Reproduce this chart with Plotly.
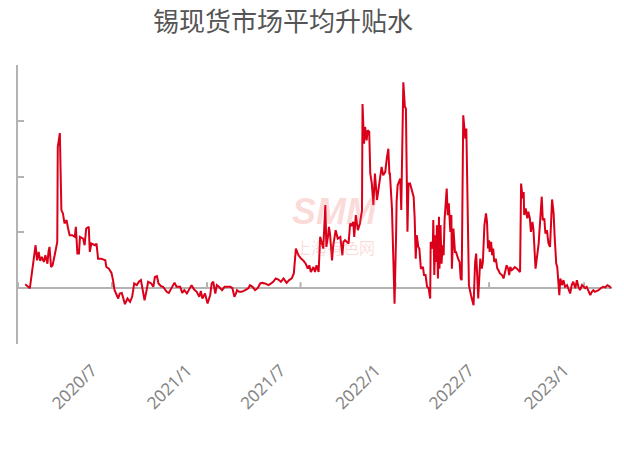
import pandas as pd
import plotly.graph_objects as go

title_text = "锡现货市场平均升贴水"

# days since 2020-01-01
day_offset = [
    14, 23, 34, 37, 40, 43, 46, 50, 53, 57, 59, 61, 64, 67, 71, 76, 77, 81, 84, 87,
    90, 94, 97, 100, 105, 110, 112, 115, 118, 120, 126, 129, 132, 137, 139, 142, 149, 152, 155, 161,
    169, 171, 176, 181, 184, 187, 194, 197, 201, 207, 212, 217, 221, 225, 230, 234, 238, 241, 245, 249,
    252, 258, 262, 265, 269, 272, 277, 281, 288, 292, 298, 303, 307, 314, 318, 322, 327, 331, 336, 341,
    346, 351, 354, 357, 362, 367, 372, 375, 378, 382, 385, 389, 395, 400, 404, 411, 415, 419, 422, 424,
    428, 433, 440, 446, 449, 454, 459, 464, 469, 473, 478, 485, 490, 494, 499, 504, 509, 514, 520, 525,
    530, 534, 538, 543, 548, 553, 557, 561, 564, 567, 572, 575, 578, 582, 585, 588, 591, 595, 597, 600,
    602, 604, 608, 610, 613, 615, 619, 624, 628, 630, 633, 640, 643, 646, 649, 651, 654, 658, 662, 666,
    667, 670, 672, 675, 677, 680, 682, 685, 688, 691, 695, 698, 701, 704, 707, 711, 714, 717, 719, 720,
    724, 727, 729, 732, 733, 735, 738, 740, 742, 744, 746, 749, 751, 754, 756, 759, 762, 766, 768, 770,
    772, 775, 777, 780, 784, 786, 789, 792, 795, 798, 799, 801, 803, 804, 806, 808, 810, 811, 813, 815,
    816, 818, 820, 822, 824, 826, 828, 830, 832, 834, 837, 839, 840, 843, 846, 848, 852, 855, 857, 859,
    862, 866, 868, 871, 873, 877, 880, 882, 885, 887, 889, 891, 893, 895, 898, 900, 903, 906, 908, 910,
    912, 913, 916, 918, 920, 922, 925, 928, 930, 933, 937, 940, 943, 946, 949, 951, 953, 956, 959, 962,
    966, 969, 972, 974, 977, 979, 980, 983, 986, 988, 991, 993, 996, 998, 1002, 1008, 1012, 1014, 1016, 1019,
    1021, 1024, 1027, 1030, 1034, 1037, 1039, 1042, 1044, 1046, 1048, 1050, 1053, 1056, 1059, 1063, 1066, 1069, 1072, 1075,
    1079, 1082, 1085, 1088, 1092, 1095, 1098, 1101, 1104, 1108, 1111, 1114, 1117, 1121, 1124, 1128, 1133, 1137, 1141, 1145,
    1148,
]

# average premium / discount, yuan/mt
premium = [
    70, 0, 770, 500, 650, 490, 560, 470, 590, 440, 650, 740, 380, 410, 590, 830, 2530, 2780, 1400, 1340,
    1160, 1220, 1070, 950, 950, 920, 1100, 620, 620, 920, 890, 770, 1070, 1100, 650, 800, 770, 800, 530, 530,
    500, 380, 350, 275, 140, -36, -185, -95, -85, -287, -185, -245, -155, 85, 55, 115, 145, 0, -215, -36,
    115, 85, 25, 200, 215, 85, 35, 25, -65, -85, 25, 100, 25, 25, -85, -36, -95, -36, 55, -25,
    -65, -155, -50, -185, -95, -275, -125, 85, 115, -95, 55, 25, -36, 25, 25, 25, 0, -155, -95, -36,
    -65, -65, -36, 0, 55, 25, -36, 0, 85, 95, 85, 55, 85, 115, 175, 155, 115, 175, 95, 145,
    175, 265, 710, 590, 530, 490, 440, 350, 410, 290, 380, 290, 410, 290, 920, 800, 710, 1490, 740, 920,
    1100, 980, 500, 740, 920, 1040, 890, 920, 590, 830, 860, 800, 1160, 1130, 1190, 920, 1310, 1040, 1160, 1400,
    3300, 2590, 2890, 2650, 2830, 2800, 2055, 1875, 1490, 2055, 1580, 1815, 2025, 2175, 2025, 2085, 2325, 2500, 2055, 2055,
    1430, 530, -280, 950, 1550, 1845, 1935, 1965, 1400, 2920, 3690, 3250, 3220, 1010, 1875, 1875, 1785, 1635, 1250, 530,
    950, 740, 710, 350, 380, 235, 235, 25, 0, -185, 830, 770, 710, 1220, 235, 950, 470, 1130, 175, 1280,
    350, 1130, 440, 770, 590, 1250, 1490, 1785, 1310, 1520, 1010, 1310, 350, 1070, 650, 650, 530, 470, 175, 145,
    3100, 2680, 2860, 770, 55, -125, -245, -305, 470, 620, 235, -185, 175, 530, 350, 470, 1130, 1340, 1190, 710,
    860, 650, 830, 590, 710, 470, 530, 350, 325, 265, 235, 175, 290, 410, 350, 235, 380, 325, 350, 380,
    350, 325, 290, 1875, 1610, 1725, 1310, 1430, 1250, 1370, 1250, 1010, 1190, 1040, 350, 800, 1280, 1640, 1220, 1250,
    980, 1040, 800, 740, 1590, 1340, 920, 440, 380, 115, -125, 175, 55, 145, 25, 55, -36, -95, 55, 115,
    0, 145, 25, -36, 55, 25, 0, 25, -36, -125, -65, -36, -65, -50, -36, 0, 25, 15, 55, 35,
    0,
]

tick_dates = ["2020-01-01", "2020-07-01", "2021-01-01", "2021-07-01",
              "2022-01-01", "2022-07-01", "2023-01-01"]
tick_labels = ["2020/1", "2020/7", "2021/1", "2021/7", "2022/1", "2022/7", "2023/1"]
y_ticks = [-1000, 0, 1000, 2000, 3000, 4000]

start = pd.Timestamp("2020-01-01")
dates = start + pd.to_timedelta(day_offset, unit="D")

fig = go.Figure()
fig.add_trace(go.Scatter(
    x=dates, y=premium, mode="lines",
    line=dict(color="#DB0019", width=2),
    hoverinfo="skip", showlegend=False,
))

axis_gray = "#b3b3b3"

# small upward ticks on the zero line
for d in tick_dates:
    fig.add_shape(type="line", xref="x", yref="y", x0=d, x1=d,
                  ysizemode="pixel", yanchor=0, y0=0, y1=6,
                  line=dict(color=axis_gray, width=2), layer="below")

W, H = 624, 467

# watermark
fig.add_annotation(text="<b><i>SMM</i></b>", xref="paper", yref="paper",
                   x=333 / W, y=(H - 233 - 123) / (H - 65 - 123), xanchor="center", yanchor="bottom",
                   showarrow=False, borderpad=0,
                   font=dict(size=36, color="rgba(240,90,90,0.22)", family="Liberation Sans"))
fig.add_annotation(text="上海有色网", xref="paper", yref="paper",
                   x=333 / W, y=(H - 234 - 123) / (H - 65 - 123), xanchor="center", yanchor="top",
                   showarrow=False, borderpad=0,
                   font=dict(size=16, color="rgba(240,90,90,0.22)", family="Noto Sans CJK SC"))

fig.update_layout(
    width=W, height=H,
    margin=dict(l=18, r=12, t=65, b=123, autoexpand=False),
    paper_bgcolor="white", plot_bgcolor="white",
    title=dict(text=title_text, x=283 / W, xanchor="center", y=1 - 22 / H, yanchor="middle",
               font=dict(size=26, color="#555555", family="Noto Sans CJK SC")),
    showlegend=False,
)
fig.update_xaxes(
    range=["2020-01-01", "2023-02-24"], automargin=False,
    tickvals=tick_dates, ticktext=tick_labels,
    tickangle=-45, showgrid=False, showline=False, zeroline=False, ticks="",
    ticklabelshift=-20, ticklabelstandoff=12,
    tickfont=dict(size=17, color="#858585", family="Noto Sans"),
)
fig.update_yaxes(
    range=[-1000, 4000], tickvals=y_ticks, showticklabels=False, automargin=False,
    showgrid=False, showline=True, linecolor=axis_gray, linewidth=2,
    ticks="inside", ticklen=6, tickwidth=2, tickcolor=axis_gray,
    zeroline=True, zerolinecolor=axis_gray, zerolinewidth=2,
)

fig.write_html("out.html", config={"displayModeBar": False},
               post_script="document.body.style.margin='0';")
